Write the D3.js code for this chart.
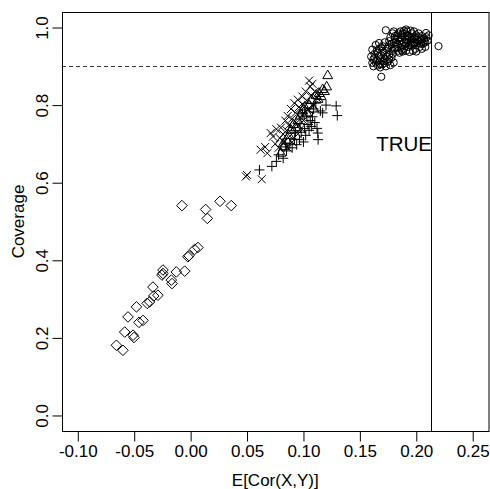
<!DOCTYPE html>
<html>
<head>
<meta charset="utf-8">
<script src="https://cdn.jsdelivr.net/npm/d3@7"></script>
<style>
  body { margin: 0; background: #fff; }
  svg { font-family: "Liberation Sans", Arial, sans-serif; }
</style>
</head>
<body>
<script>
// tick labels
var xTicks = [-0.10, -0.05, 0.00, 0.05, 0.10, 0.15, 0.20, 0.25];
var yTicks = [0.0, 0.2, 0.4, 0.6, 0.8, 1.0];

// reference lines
var trueValue = 0.213;
var targetCoverage = 0.9;

// diamonds
var diamonds = [
  [-0.0077,0.541],[0.0133,0.531],[0.0148,0.508],[0.026,0.552],[0.036,0.541],
  [-0.0024,0.409],[0.0065,0.433],[0.0035,0.428],[-0.0245,0.375],[-0.0254,0.362],
  [-0.0127,0.370],[-0.0053,0.372],[-0.0171,0.349],[-0.0165,0.340],[-0.0334,0.331],
  [-0.029,0.310],[-0.0327,0.308],[-0.0363,0.293],[-0.0385,0.289],[-0.048,0.280],
  [-0.0422,0.245],[-0.0458,0.240],[-0.0555,0.254],[-0.0584,0.215],[-0.051,0.207],
  [-0.0502,0.201],[-0.0658,0.181],[-0.060,0.168],[-0.0015,0.412],[-0.0245,0.366]
];

// crosses (x)
var crosses = [
  [0.049,0.616],[0.050,0.620],[0.063,0.609],[0.062,0.685],[0.066,0.692],[0.068,0.676],
  [0.071,0.728],[0.073,0.719],[0.075,0.700],[0.076,0.738],[0.078,0.690],[0.079,0.715],
  [0.080,0.742],[0.082,0.725],[0.083,0.705],[0.084,0.760],[0.085,0.735],[0.086,0.772],
  [0.087,0.748],[0.088,0.720],[0.089,0.790],[0.090,0.765],[0.091,0.742],[0.092,0.805],
  [0.093,0.780],[0.094,0.755],[0.095,0.814],[0.096,0.795],[0.097,0.770],[0.098,0.740],
  [0.099,0.822],[0.100,0.800],[0.101,0.778],[0.102,0.835],[0.103,0.812],[0.104,0.790],
  [0.105,0.863],[0.106,0.848],[0.107,0.825],[0.108,0.855],[0.109,0.800],[0.110,0.835],
  [0.112,0.818],[0.095,0.725],[0.090,0.705],[0.086,0.690],[0.100,0.760]
];

// pluses (+)
var pluses = [
  [0.061,0.633],[0.072,0.642],[0.082,0.663],[0.076,0.655],[0.078,0.672],[0.085,0.682],
  [0.088,0.700],[0.090,0.690],[0.092,0.712],[0.094,0.698],[0.0965,0.711],[0.098,0.730],
  [0.100,0.705],[0.101,0.740],[0.102,0.722],[0.104,0.750],[0.105,0.735],[0.106,0.760],
  [0.107,0.745],[0.108,0.770],[0.110,0.755],[0.112,0.740],[0.113,0.711],[0.1127,0.728],
  [0.115,0.785],[0.117,0.780],[0.120,0.800],[0.129,0.798],[0.130,0.773],[0.103,0.770],
  [0.097,0.752],[0.099,0.780],[0.109,0.790],[0.111,0.805],[0.084,0.700],[0.093,0.730]
];

// triangles
var triangles = [
  [0.080,0.676],[0.083,0.693],[0.082,0.700],[0.085,0.710],[0.087,0.722],[0.089,0.735],
  [0.091,0.750],[0.093,0.742],[0.095,0.760],[0.097,0.772],[0.099,0.785],[0.101,0.795],
  [0.103,0.780],[0.105,0.800],[0.107,0.812],[0.109,0.790],[0.111,0.825],[0.113,0.815],
  [0.1156,0.822],[0.1186,0.835],[0.1206,0.847],[0.1215,0.876],[0.117,0.840],[0.114,0.830]
];

// circles
var circles = [
  [0.173,0.993],[0.2197,0.952],[0.169,0.873],[0.191,0.995],[0.2086,0.986],[0.161,0.943],[0.161,0.909],
  [0.160,0.925],[0.162,0.918],[0.163,0.932],[0.164,0.910],[0.165,0.940],[0.166,0.902],[0.167,0.927],
  [0.168,0.915],[0.169,0.948],[0.170,0.905],[0.171,0.935],[0.172,0.920],[0.173,0.900],[0.174,0.945],
  [0.175,0.912],[0.176,0.930],[0.177,0.903],[0.178,0.922],[0.179,0.940],[0.180,0.910],[0.164,0.955],
  [0.167,0.960],[0.170,0.952],[0.162,0.900],[0.168,0.897],[0.172,0.962],[0.175,0.950],[0.178,0.958],
  [0.166,0.935],[0.171,0.913],[0.163,0.922],[0.165,0.915],[0.169,0.928],[0.172,0.908],[0.174,0.925],
  [0.170,0.940],[0.167,0.945],[0.176,0.918],[0.168,0.905],
  [0.176,0.965],[0.177,0.975],[0.178,0.945],[0.179,0.985],[0.180,0.960],[0.181,0.970],[0.182,0.950],
  [0.183,0.980],[0.184,0.940],[0.185,0.965],[0.186,0.975],[0.187,0.955],[0.188,0.985],[0.189,0.945],
  [0.190,0.970],[0.191,0.960],[0.192,0.980],[0.193,0.950],[0.194,0.975],[0.195,0.965],[0.196,0.985],
  [0.197,0.955],[0.198,0.970],[0.199,0.945],[0.200,0.980],[0.201,0.960],[0.202,0.975],[0.203,0.950],
  [0.204,0.968],[0.205,0.978],[0.206,0.958],[0.207,0.972],[0.208,0.962],[0.209,0.975],[0.210,0.966],
  [0.211,0.980],[0.185,0.935],[0.188,0.938],[0.191,0.940],[0.194,0.937],[0.197,0.940],[0.200,0.938],
  [0.186,0.990],[0.189,0.992],[0.192,0.990],[0.195,0.992],[0.198,0.990],[0.180,0.990],[0.182,0.962],
  [0.184,0.972],[0.187,0.968],[0.190,0.952],[0.193,0.962],[0.196,0.972],[0.199,0.960],[0.202,0.965],
  [0.205,0.945],[0.208,0.950],[0.176,0.955],[0.179,0.932],
  [0.183,0.958],[0.186,0.948],[0.189,0.962],[0.192,0.968],[0.195,0.955],[0.198,0.962],[0.201,0.970],
  [0.204,0.958],[0.207,0.965],[0.181,0.978],[0.184,0.985],[0.187,0.980],[0.190,0.985],[0.193,0.978],
  [0.196,0.960],[0.199,0.975],[0.202,0.985],[0.205,0.970],[0.181,0.945],[0.187,0.942]
];

var W = 490, H = 489;
var box = {left: 62, right: 488.5, top: 12, bottom: 431};

var svg = d3.select("body").append("svg").attr("width", W).attr("height", H);

var x = d3.scaleLinear().domain([-0.114, 0.264]).range([box.left, box.right]);
var y = d3.scaleLinear().domain([-0.04, 1.04]).range([box.bottom, box.top]);

// R prints a plain hyphen for negatives
function fmt(spec) {
  var f = d3.format(spec);
  return function(d) { return f(d).replace("\u2212", "-"); };
}

// path for each symbol, centred on 0,0
function shapePath(kind) {
  if (kind === "circle") return d3.symbol().type(d3.symbolCircle).size(Math.PI * 3.6 * 3.6)();
  if (kind === "diamond") return "M0,-5.3L5.3,0L0,5.3L-5.3,0Z";
  if (kind === "plus") return "M-5,0H5M0,-5V5";
  if (kind === "cross") return "M-4,-4L4,4M-4,4L4,-4";
  if (kind === "triangle") return "M0,-5.6L4.9,3L-4.9,3Z";
}

var series = [
  {kind: "diamond", data: diamonds},
  {kind: "cross", data: crosses},
  {kind: "plus", data: pluses},
  {kind: "triangle", data: triangles},
  {kind: "circle", data: circles}
];

var plot = svg.append("g");
series.forEach(function(s) {
  plot.selectAll("path." + s.kind)
    .data(s.data)
    .enter().append("path")
    .attr("class", s.kind)
    .attr("d", shapePath(s.kind))
    .attr("transform", function(d) { return "translate(" + x(d[0]) + "," + y(d[1]) + ")"; })
    .attr("fill", "none")
    .attr("stroke", "#000")
    .attr("stroke-width", 1);
});

// reference lines
svg.append("line")
  .attr("x1", box.left).attr("x2", box.right)
  .attr("y1", Math.round(y(targetCoverage)) + 0.5).attr("y2", Math.round(y(targetCoverage)) + 0.5)
  .attr("stroke", "#333").attr("stroke-dasharray", "4,3");
svg.append("line")
  .attr("x1", Math.round(x(trueValue)) + 0.5).attr("x2", Math.round(x(trueValue)) + 0.5)
  .attr("y1", box.top).attr("y2", box.bottom)
  .attr("stroke", "#000");

svg.append("text")
  .attr("x", x(trueValue) + 1).attr("y", y(0.7) + 7)
  .attr("text-anchor", "end")
  .attr("font-size", 20.5)
  .text("TRUE");

// axes
var xAxis = svg.append("g")
  .attr("transform", "translate(0," + (box.bottom + 0.5) + ")")
  .call(d3.axisBottom(x).tickValues(xTicks).tickSize(10).tickPadding(3).tickFormat(fmt(".2f")));
xAxis.select(".domain").remove();
xAxis.selectAll("text").attr("font-size", 17).attr("font-family", null).attr("fill", "#000");
xAxis.selectAll("line").attr("stroke", "#000");

var yAxis = svg.append("g")
  .attr("transform", "translate(" + (box.left + 0.5) + ",0)")
  .call(d3.axisLeft(y).tickValues(yTicks).tickSize(10).tickFormat(fmt(".1f")));
yAxis.select(".domain").remove();
yAxis.selectAll("line").attr("stroke", "#000");
yAxis.selectAll("text")
  .attr("font-size", 17).attr("font-family", null).attr("fill", "#000")
  .attr("x", null).attr("dy", null)
  .attr("text-anchor", "middle")
  .attr("transform", "translate(-15,0) rotate(-90)");

// box
svg.append("rect")
  .attr("x", box.left + 0.5).attr("y", box.top + 0.5)
  .attr("width", box.right - box.left).attr("height", box.bottom - box.top)
  .attr("fill", "none").attr("stroke", "#000");

// axis titles
svg.append("text")
  .attr("x", (box.left + box.right) / 2).attr("y", 486)
  .attr("text-anchor", "middle").attr("font-size", 17)
  .text("E[Cor(X,Y)]");
svg.append("text")
  .attr("transform", "translate(24," + ((box.top + box.bottom) / 2) + ") rotate(-90)")
  .attr("text-anchor", "middle").attr("font-size", 17)
  .text("Coverage");
</script>
</body>
</html>
